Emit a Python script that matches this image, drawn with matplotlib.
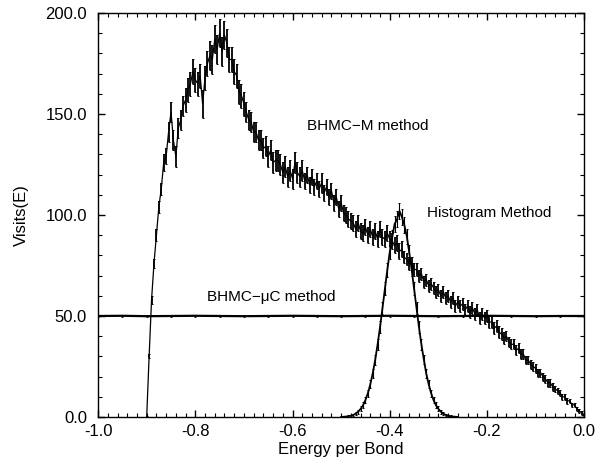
import matplotlib
matplotlib.use('Agg')
import matplotlib.pyplot as plt
from matplotlib.ticker import MultipleLocator, FormatStrFormatter

plt.rcParams['font.family'] = ['Liberation Sans', 'DejaVu Sans']

# BHMC-M method: energy bins (-0.900 ... 0.000, step 0.005), visits and error bars
bhmc_m_energy = [
    -0.900, -0.895, -0.890, -0.885, -0.880, -0.875, -0.870, -0.865, -0.860, -0.855,
    -0.850, -0.845, -0.840, -0.835, -0.830, -0.825, -0.820, -0.815, -0.810, -0.805,
    -0.800, -0.795, -0.790, -0.785, -0.780, -0.775, -0.770, -0.765, -0.760, -0.755,
    -0.750, -0.745, -0.740, -0.735, -0.730, -0.725, -0.720, -0.715, -0.710, -0.705,
    -0.700, -0.695, -0.690, -0.685, -0.680, -0.675, -0.670, -0.665, -0.660, -0.655,
    -0.650, -0.645, -0.640, -0.635, -0.630, -0.625, -0.620, -0.615, -0.610, -0.605,
    -0.600, -0.595, -0.590, -0.585, -0.580, -0.575, -0.570, -0.565, -0.560, -0.555,
    -0.550, -0.545, -0.540, -0.535, -0.530, -0.525, -0.520, -0.515, -0.510, -0.505,
    -0.500, -0.495, -0.490, -0.485, -0.480, -0.475, -0.470, -0.465, -0.460, -0.455,
    -0.450, -0.445, -0.440, -0.435, -0.430, -0.425, -0.420, -0.415, -0.410, -0.405,
    -0.400, -0.395, -0.390, -0.385, -0.380, -0.375, -0.370, -0.365, -0.360, -0.355,
    -0.350, -0.345, -0.340, -0.335, -0.330, -0.325, -0.320, -0.315, -0.310, -0.305,
    -0.300, -0.295, -0.290, -0.285, -0.280, -0.275, -0.270, -0.265, -0.260, -0.255,
    -0.250, -0.245, -0.240, -0.235, -0.230, -0.225, -0.220, -0.215, -0.210, -0.205,
    -0.200, -0.195, -0.190, -0.185, -0.180, -0.175, -0.170, -0.165, -0.160, -0.155,
    -0.150, -0.145, -0.140, -0.135, -0.130, -0.125, -0.120, -0.115, -0.110, -0.105,
    -0.100, -0.095, -0.090, -0.085, -0.080, -0.075, -0.070, -0.065, -0.060, -0.055,
    -0.050, -0.045, -0.040, -0.035, -0.030, -0.025, -0.020, -0.015, -0.010, -0.005,
    0.000,
]
bhmc_m_visits = [
    0, 30, 58, 76, 90, 104, 113, 126, 129, 141,
    151, 137, 129, 143, 147, 154, 157, 162, 165, 171,
    167, 165, 169, 155, 168, 175, 179, 177, 187, 182,
    190, 181, 189, 185, 177, 177, 171, 169, 161, 159,
    155, 151, 147, 146, 141, 141, 137, 137, 133, 134,
    129, 132, 126, 127, 127, 125, 121, 124, 119, 122,
    118, 126, 121, 119, 122, 117, 120, 115, 119, 114,
    117, 113, 116, 111, 114, 109, 112, 106, 109, 103,
    106, 101, 100, 98, 97, 96, 93, 96, 92, 91,
    94, 90, 93, 89, 92, 88, 93, 89, 88, 91,
    88, 87, 85, 86, 82, 83, 79, 78, 76, 76,
    73, 73, 70, 71, 67, 68, 65, 66, 64, 62,
    63, 60, 62, 59, 60, 57, 59, 55, 57, 55,
    56, 53, 55, 52, 54, 51, 53, 49, 51, 49,
    50, 47, 47, 44, 45, 42, 41, 39, 40, 37,
    36, 36, 33, 34, 31, 31, 28, 28, 26, 25,
    24, 22, 22, 20, 19, 17, 17, 15, 14, 13,
    12, 10, 10, 8, 8, 6, 6, 4, 3, 2,
    1,
]
bhmc_m_err = [
    0.5, 1, 2, 2, 3, 3, 3, 4, 4, 5,
    5, 5, 5, 5, 5, 5, 6, 6, 6, 6,
    6, 6, 6, 7, 6, 6, 7, 7, 7, 7,
    7, 7, 7, 7, 6, 6, 6, 6, 6, 6,
    6, 5, 5, 5, 5, 5, 5, 5, 5, 5,
    5, 5, 5, 5, 5, 5, 5, 5, 5, 5,
    5, 5, 5, 5, 5, 4, 4, 4, 4, 4,
    4, 4, 5, 4, 4, 4, 4, 4, 4, 4,
    4, 4, 4, 4, 4, 4, 4, 4, 4, 4,
    4, 4, 4, 4, 4, 4, 4, 4, 4, 4,
    4, 4, 4, 4, 4, 4, 3, 3, 3, 3,
    3, 3, 3, 3, 3, 3, 3, 3, 3, 3,
    3, 3, 3, 3, 3, 3, 3, 3, 3, 3,
    3, 3, 3, 3, 3, 3, 3, 3, 3, 3,
    3, 3, 3, 3, 3, 3, 3, 3, 2.5, 2.5,
    2.5, 2.5, 2.5, 2.5, 2.5, 2.5, 2, 2, 2, 2,
    2, 2, 2, 2, 2, 2, 2, 2, 1.5, 1.5,
    1.5, 1.5, 1.5, 1.5, 1, 1, 1, 1, 1, 1,
    0.5,
]

# Histogram method
hist_energy = [
    -0.500, -0.495, -0.490, -0.485, -0.480, -0.475, -0.470, -0.465, -0.460, -0.455,
    -0.450, -0.445, -0.440, -0.435, -0.430, -0.425, -0.420, -0.415, -0.410, -0.405,
    -0.400, -0.395, -0.390, -0.385, -0.380, -0.375, -0.370, -0.365, -0.360, -0.355,
    -0.350, -0.345, -0.340, -0.335, -0.330, -0.325, -0.320, -0.315, -0.310, -0.305,
    -0.300, -0.295, -0.290, -0.285, -0.280, -0.275, -0.270, -0.265, -0.260,
]
hist_visits = [
    0.0, 0.1, 0.2, 0.4, 0.6, 1.0, 1.7, 2.6, 4.0, 5.8,
    8.4, 11.8, 16.2, 21.7, 28.3, 36.0, 44.6, 53.9, 63.5, 72.9,
    81.7, 89.0, 95.5, 98.0, 102.0, 99.0, 95.0, 89.5, 81.5, 73.0,
    63.5, 54.0, 44.5, 36.0, 28.5, 21.5, 16.2, 11.8, 8.4, 5.8,
    4.0, 2.6, 1.7, 1.0, 0.6, 0.4, 0.2, 0.1, 0.0,
]
hist_err = [
    0.2, 0.2, 0.3, 0.4, 0.5, 0.6, 0.8, 1.0, 1.2, 1.4,
    1.6, 1.8, 2.0, 2.2, 2.4, 2.6, 2.8, 3.0, 3.2, 3.4,
    3.6, 3.8, 4.0, 4.0, 4.0, 4.0, 4.0, 3.8, 3.6, 3.4,
    3.2, 3.0, 2.8, 2.6, 2.4, 2.2, 2.0, 1.8, 1.6, 1.4,
    1.2, 1.0, 0.8, 0.6, 0.5, 0.4, 0.3, 0.2, 0.2,
]

# BHMC-muC method (flat)
muc_energy = [
    -1.00, -0.95, -0.90, -0.85, -0.80, -0.75, -0.70, -0.65, -0.60, -0.55, -0.50,
    -0.45, -0.40, -0.35, -0.30, -0.25, -0.20, -0.15, -0.10, -0.05, 0.00,
]
muc_visits = [
    50.0, 50.1, 49.9, 50.0, 50.1, 50.0, 49.9, 50.0, 50.1, 50.0, 49.9,
    50.0, 50.1, 50.0, 49.9, 50.0, 50.1, 50.0, 49.9, 50.0, 50.0,
]
muc_err = [
    0.6, 0.6, 0.6, 0.6, 0.6, 0.6, 0.6, 0.6, 0.6, 0.6, 0.6,
    0.6, 0.6, 0.6, 0.6, 0.6, 0.6, 0.6, 0.6, 0.6, 0.6,
]

fig = plt.figure(figsize=(5.98, 4.63), dpi=100)
ax = fig.add_axes([0.164, 0.0994, 0.813, 0.8725])

ax.errorbar(bhmc_m_energy, bhmc_m_visits, yerr=bhmc_m_err, color='black',
            linewidth=0.9, elinewidth=1.3, capsize=1.0, capthick=0.7)
ax.errorbar(hist_energy, hist_visits, yerr=hist_err, color='black',
            linewidth=1.3, elinewidth=0.8, capsize=1.0, capthick=0.7)
ax.errorbar(muc_energy, muc_visits, yerr=muc_err, color='black',
            linewidth=1.6, elinewidth=0.6, capsize=1.0, capthick=0.6)

ax.text(-0.570, 144, "BHMC\u2212M method", fontsize=11, ha='left', va='center')
ax.text(-0.323, 101, "Histogram Method", fontsize=11, ha='left', va='center')
ax.text(-0.776, 59.5, "BHMC\u2212\u03bcC method", fontsize=11, ha='left', va='center')

ax.set_xlim(-1.0, 0.0)
ax.set_ylim(0.0, 200.0)
ax.xaxis.set_major_locator(MultipleLocator(0.2))
ax.xaxis.set_minor_locator(MultipleLocator(0.02))
ax.yaxis.set_major_locator(MultipleLocator(50))
ax.yaxis.set_minor_locator(MultipleLocator(10))
ax.xaxis.set_major_formatter(FormatStrFormatter('%.1f'))
ax.yaxis.set_major_formatter(FormatStrFormatter('%.1f'))
ax.tick_params(which='both', direction='in', top=True, right=True, labelsize=12)
ax.tick_params(which='major', length=5, width=1)
ax.tick_params(which='minor', length=3, width=0.8)
ax.tick_params(axis='x', which='major', pad=5)
ax.tick_params(axis='y', which='major', pad=8)
for sp in ax.spines.values():
    sp.set_linewidth(1.0)

ax.set_xlabel("Energy per Bond", fontsize=12, labelpad=2)
ax.set_ylabel("Visits(E)", fontsize=12, labelpad=12)

fig.savefig("out.png", dpi=100, facecolor='white')
